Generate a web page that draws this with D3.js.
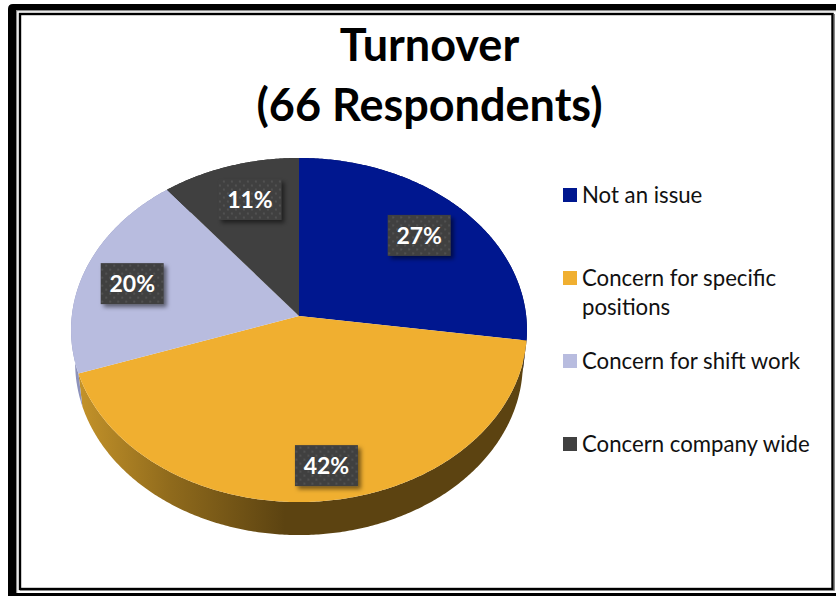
<!DOCTYPE html>
<html>
<head>
<meta charset="utf-8">
<script src="https://cdn.jsdelivr.net/npm/d3@7/dist/d3.min.js"></script>
<style>
html,body{margin:0;padding:0;background:#fff;overflow:hidden}
svg{display:block}
text{font-family:Lato,"Open Sans",sans-serif}
</style>
</head>
<body>
<svg id="chart" width="836" height="596"></svg>
<script>
// ---- data ----
const categories = ["Not an issue", "Concern for specific positions", "Concern for shift work", "Concern company wide"];
const respondents = [18, 28, 13, 7];
const legendLines = [["Not an issue"], ["Concern for specific", "positions"], ["Concern for shift work"], ["Concern company wide"]];
const titleLines = ["Turnover", "(66 Respondents)"];
const topColors = ["#00178f", "#f0af30", "#b8bcdf", "#404040"];
const wallColors = ["#000e57", "url(#wallGold)", "#8d92bb", "#262626"];
const labelRadius = [0.737, 0.825, 0.77, 0.757];
const labelAngleShift = [-0.8, -2.4, -1.9, 1.5];

// ---- layout ----
const W = 836, H = 596;
const cx = 299, apexY = 316;
const R = 227.2, A = 170.9, k = 0.0814;   // perspective ellipse
const depth = 33, rimScale = 0.982;

const svg = d3.select("#chart");
const defs = svg.append("defs");

const g = defs.append("linearGradient").attr("id", "wallGold")
  .attr("gradientUnits", "userSpaceOnUse").attr("x1", 78).attr("x2", 285).attr("y1", 0).attr("y2", 0);
g.append("stop").attr("offset", 0).attr("stop-color", "#c4932a");
g.append("stop").attr("offset", 0.45).attr("stop-color", "#8f6a1c");
g.append("stop").attr("offset", 1).attr("stop-color", "#5c4311");

const p = defs.append("pattern").attr("id", "dots").attr("patternUnits", "userSpaceOnUse")
  .attr("width", 8).attr("height", 8);
p.append("rect").attr("width", 8).attr("height", 8).attr("fill", "#404040");
p.append("circle").attr("cx", 2).attr("cy", 2).attr("r", 0.9).attr("fill", "#595959");
p.append("circle").attr("cx", 6).attr("cy", 6).attr("r", 0.9).attr("fill", "#595959");

const f = defs.append("filter").attr("id", "shadow").attr("x", "-20%").attr("y", "-20%").attr("width", "150%").attr("height", "160%");
f.append("feDropShadow").attr("dx", 3).attr("dy", 3).attr("stdDeviation", 2.2).attr("flood-color", "#000").attr("flood-opacity", 0.5);

// ---- frame ----
const frame = svg.append("g");
frame.append("path").attr("fill", "#000")
  .attr("d", `M8 ${H}V9Q8 4 13 4H${W}V10H16V${H - 3}H${W}V${H}Z`);
frame.append("rect").attr("x", 16).attr("y", 10).attr("width", W - 16).attr("height", 1.2).attr("fill", "#8a8a8a");
frame.append("rect").attr("x", 16).attr("y", 10).attr("width", 1.2).attr("height", H - 13).attr("fill", "#8a8a8a");
frame.append("rect").attr("x", 20).attr("y", 14).attr("width", 812.5).attr("height", 575)
  .attr("fill", "#fff").attr("stroke", "#000").attr("stroke-width", 2.4);
frame.append("path").attr("fill", "none").attr("stroke", "#8a8a8a").attr("stroke-width", 1)
  .attr("d", "M834.5 14V590.5H20");

// ---- projection of the tilted disc ----
function project(theta, t) {
  const u = Math.sin(theta) * t, v = -Math.cos(theta) * t, w = 1 - k * v;
  return [cx + R * u / w, apexY + A * v / w];
}
function rimLow(pt) {
  return [cx + (pt[0] - cx) * rimScale, pt[1] + depth];
}
const line = d3.line();
function arcSamples(a0, a1) {
  const n = Math.max(2, Math.ceil((a1 - a0) / 0.01));
  return d3.range(n + 1).map(i => project(a0 + (a1 - a0) * i / n, 1));
}

const arcs = d3.pie().sort(null).value(d => d)(respondents);
const total = d3.sum(respondents);
const pct = v => d3.format(".0%")(v / total);

// walls, back to front
const pie = svg.append("g");
pie.selectAll("path.wall").data(arcs).join("path").attr("class", "wall")
  .attr("fill", (d, i) => wallColors[i])
  .attr("d", d => {
    const top = arcSamples(d.startAngle, d.endAngle);
    return line(top.concat(top.slice().reverse().map(rimLow))) + "Z";
  });
// top face
pie.selectAll("path.top").data(arcs).join("path").attr("class", "top")
  .attr("fill", (d, i) => topColors[i])
  .attr("d", d => line([[cx, apexY]].concat(arcSamples(d.startAngle, d.endAngle))) + "Z");

// ---- data labels ----
const boxW = 63, boxH = 41;
const labels = svg.append("g").selectAll("g").data(arcs).join("g")
  .attr("transform", (d, i) => {
    const c = project((d.startAngle + d.endAngle) / 2 + labelAngleShift[i] * Math.PI / 180, labelRadius[i]);
    return `translate(${c[0]},${c[1]})`;
  });
labels.append("rect").attr("x", -boxW / 2).attr("y", -boxH / 2).attr("width", boxW).attr("height", boxH)
  .attr("fill", "url(#dots)").attr("filter", "url(#shadow)");
labels.append("text").attr("text-anchor", "middle").attr("y", 8.5)
  .attr("font-size", 23).attr("font-weight", 700).attr("fill", "#fff")
  .text(d => pct(d.value));

// ---- title ----
svg.append("g").selectAll("text").data(titleLines).join("text")
  .attr("x", 429.5).attr("y", (d, i) => 61 + i * 60)
  .attr("text-anchor", "middle").attr("font-size", 45).attr("font-weight", 700).attr("fill", "#000")
  .text(d => d);

// ---- legend ----
const legendY = d3.scalePoint().domain(categories).range([188, 437]);
const legend = svg.append("g").selectAll("g").data(categories).join("g")
  .attr("transform", d => `translate(563,${legendY(d)})`);
legend.append("rect").attr("width", 14).attr("height", 14).attr("fill", (d, i) => topColors[i]);
legend.each(function (d, i) {
  d3.select(this).selectAll("text").data(legendLines[i]).join("text")
    .attr("x", 19).attr("y", (l, j) => 15 + j * 29)
    .attr("font-size", 22.2).attr("fill", "#111").text(l => l);
});
</script>
</body>
</html>
